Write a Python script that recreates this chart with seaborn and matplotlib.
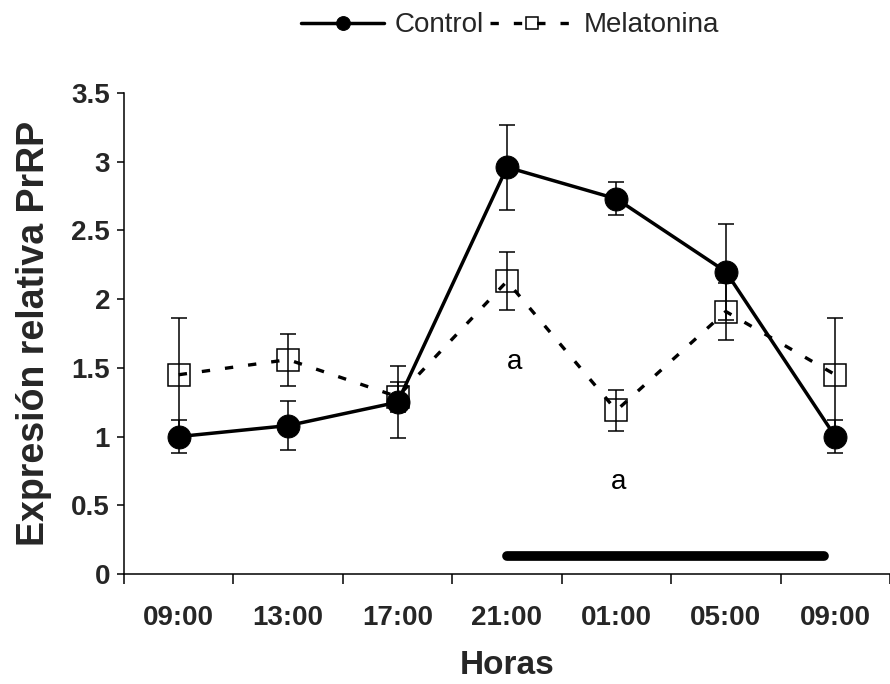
import matplotlib
matplotlib.use("Agg")
import matplotlib.pyplot as plt
import numpy as np
import pandas as pd
import seaborn as sns

# Relative PrRP expression across the sampling times
horas = ["09:00", "13:00", "17:00", "21:00", "01:00", "05:00", "09:00"]
control = [1.00, 1.08, 1.25, 2.96, 2.73, 2.20, 1.00]
control_err = [0.12, 0.18, 0.26, 0.31, 0.12, 0.35, 0.12]
melatonina = [1.45, 1.56, 1.29, 2.13, 1.19, 1.91, 1.45]
melatonina_err = [0.41, 0.19, 0.11, 0.21, 0.15, 0.21, 0.41]

# Significance marks (position index, value, text)
sig_x = [3.07, 4.02]
sig_y = [1.54, 0.67]
sig_text = ["a", "a"]

# Dark phase bar (in category units) and its height on the y axis
night_span = [3.0, 5.9]
night_level = 0.13

yticks = [0, 0.5, 1, 1.5, 2, 2.5, 3, 3.5]
ytick_labels = ["0", "0.5", "1", "1.5", "2", "2.5", "3", "3.5"]

sns.set_style("ticks")
plt.rcParams["font.family"] = ["Liberation Sans", "DejaVu Sans"]

df = pd.DataFrame({
    "pos": np.arange(len(horas)),
    "Control": control,
    "Melatonina": melatonina,
})

fig = plt.figure(figsize=(8.9, 6.84), dpi=100)
ax = fig.add_axes([124 / 890, 1 - 574 / 684, (890 - 124) / 890, (574 - 93) / 684])

# error bars
ax.errorbar(df["pos"], df["Melatonina"], yerr=melatonina_err, fmt="none",
            ecolor="black", elinewidth=1.1, capsize=5.5, capthick=1.1, zorder=2)
ax.errorbar(df["pos"], df["Control"], yerr=control_err, fmt="none",
            ecolor="black", elinewidth=1.1, capsize=5.5, capthick=1.1, zorder=2)

sns.lineplot(data=df, x="pos", y="Melatonina", ax=ax, color="black",
             linewidth=2.4, linestyle=(0, (2.5, 4.5)), marker="s", markersize=15.5,
             markerfacecolor="none", markeredgecolor="black", markeredgewidth=1.1,
             label="Melatonina", zorder=3)
sns.lineplot(data=df, x="pos", y="Control", ax=ax, color="black",
             linewidth=2.5, marker="o", markersize=16.5,
             markerfacecolor="black", markeredgecolor="black",
             label="Control", zorder=4)

# dark phase bar
ax.plot(night_span, [night_level, night_level], color="black", linewidth=7,
        solid_capstyle="round", zorder=3)

for x, y, t in zip(sig_x, sig_y, sig_text):
    ax.text(x, y, t, ha="center", va="center", fontsize=20, color="black")

ax.set_xlim(-0.5, 6.5)
ax.set_ylim(0, 3.5)
ax.set_xticks(np.arange(len(horas)))
ax.set_xticklabels(horas, fontsize=20, fontweight="bold")
ax.set_xticks(np.arange(-0.5, len(horas) + 0.5, 1), minor=True)
ax.tick_params(axis="x", which="major", length=0, pad=22)
ax.tick_params(axis="x", which="minor", length=7, width=1.1, direction="out", color="black")
ax.set_yticks(yticks)
ax.set_yticklabels(ytick_labels, fontsize=20, fontweight="bold")
ax.tick_params(axis="y", length=5, width=1.1, direction="out", pad=5, color="black")

for side in ["top", "right"]:
    ax.spines[side].set_visible(False)
for side in ["left", "bottom"]:
    ax.spines[side].set_linewidth(1.1)
    ax.spines[side].set_color("black")

ax.set_xlabel("Horas", fontsize=24, fontweight="bold", labelpad=14)
ax.set_ylabel("Expresión relativa PrRP", fontsize=27, fontweight="bold", labelpad=14)

handles, labels = ax.get_legend_handles_labels()
ax.get_legend().remove()
order = [labels.index("Control"), labels.index("Melatonina")]
fig.legend([handles[i] for i in order], [labels[i] for i in order],
           loc="center", bbox_to_anchor=(0.573, 0.963), ncol=2, frameon=False,
           fontsize=20, handlelength=3.0, handletextpad=0.35, columnspacing=0.25,
           markerscale=0.6)

fig.savefig("out.png", dpi=100)
